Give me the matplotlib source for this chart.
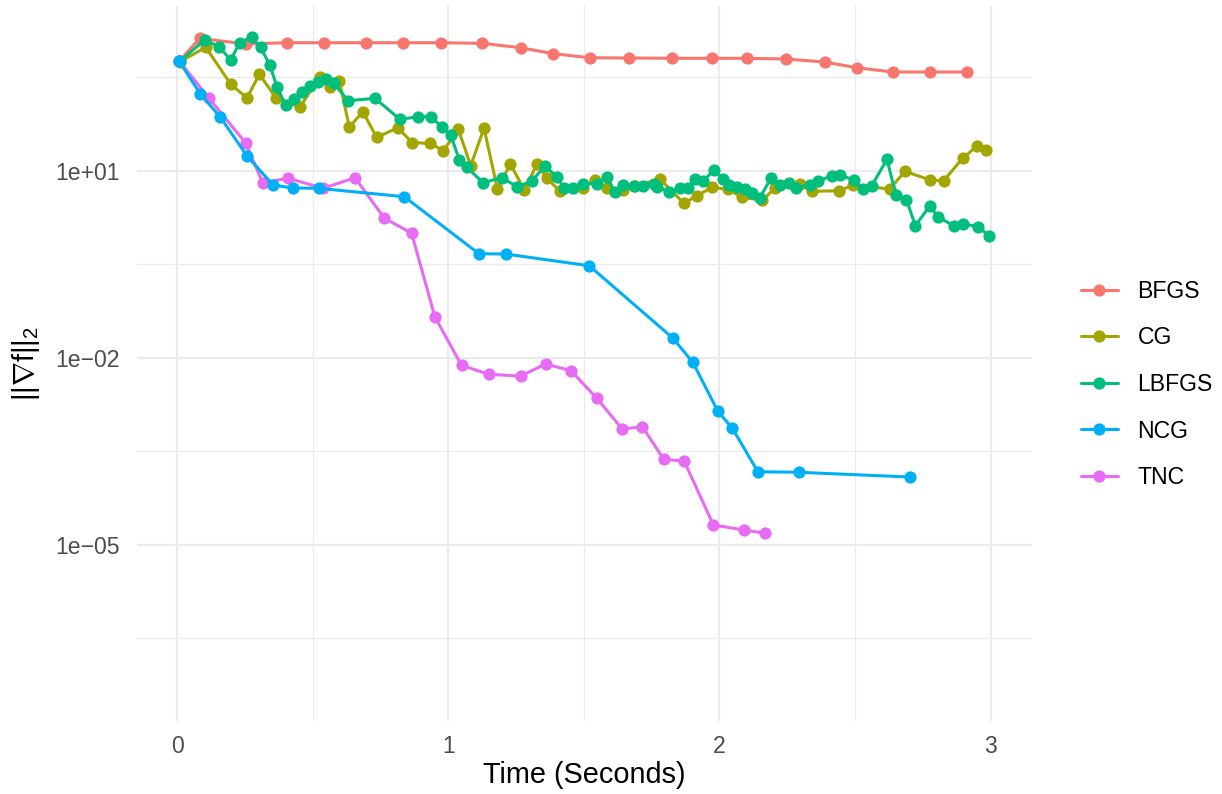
import numpy as np
import matplotlib
matplotlib.use("Agg")
import matplotlib.pyplot as plt
from matplotlib.ticker import FixedLocator, NullFormatter

plt.rcParams['font.family'] = ['Liberation Sans', 'DejaVu Sans']
plt.rcParams['mathtext.fontset'] = 'custom'
plt.rcParams['mathtext.rm'] = 'Liberation Sans'
plt.rcParams['mathtext.it'] = 'Liberation Sans:italic'
plt.rcParams['mathtext.bf'] = 'Liberation Sans:bold'

# ---- data (time in seconds, log10 of gradient norm) ----
methods = ["BFGS", "CG", "LBFGS", "NCG", "TNC"]
colors = ["#F8766D", "#A3A500", "#00BF7D", "#00B0F6", "#E76BF3"]

bfgs_t = [0.008, 0.084, 0.254, 0.404, 0.541, 0.696, 0.834, 0.973, 1.126, 1.267,
          1.388, 1.523, 1.668, 1.824, 1.974, 2.101, 2.245, 2.389, 2.507, 2.640,
          2.778, 2.913]
bfgs_log10 = [2.759, 3.123, 3.032, 3.053, 3.053, 3.053, 3.053, 3.053, 3.043, 2.973,
              2.877, 2.812, 2.808, 2.803, 2.803, 2.803, 2.792, 2.743, 2.652, 2.583,
              2.583, 2.583]

cg_t = [0.010, 0.106, 0.198, 0.258, 0.303, 0.364, 0.453, 0.527, 0.564, 0.598,
        0.635, 0.685, 0.736, 0.814, 0.868, 0.934, 0.982, 1.037, 1.083, 1.132,
        1.181, 1.229, 1.281, 1.327, 1.363, 1.412, 1.497, 1.541, 1.586, 1.646,
        1.689, 1.781, 1.869, 1.918, 1.973, 2.030, 2.084, 2.159, 2.204, 2.298,
        2.343, 2.443, 2.493, 2.629, 2.684, 2.778, 2.827, 2.897, 2.949, 2.985]
cg_log10 = [2.748, 2.979, 2.386, 2.166, 2.548, 2.174, 2.022, 2.511, 2.347, 2.447,
            1.701, 1.946, 1.536, 1.688, 1.449, 1.439, 1.321, 1.664, 1.083, 1.685,
            0.711, 1.107, 0.690, 1.107, 0.883, 0.670, 0.718, 0.856, 0.723, 0.690,
            0.758, 0.867, 0.477, 0.602, 0.731, 0.702, 0.575, 0.525, 0.718, 0.787,
            0.670, 0.679, 0.771, 0.707, 0.990, 0.851, 0.840, 1.199, 1.391, 1.332]

lbfgs_t = [0.010, 0.102, 0.155, 0.197, 0.231, 0.275, 0.308, 0.342, 0.369, 0.400,
           0.431, 0.459, 0.490, 0.520, 0.551, 0.578, 0.631, 0.730, 0.822, 0.889,
           0.935, 0.976, 1.009, 1.041, 1.068, 1.129, 1.197, 1.255, 1.308, 1.357,
           1.400, 1.427, 1.461, 1.496, 1.549, 1.585, 1.615, 1.646, 1.684, 1.717,
           1.758, 1.770, 1.816, 1.855, 1.883, 1.909, 1.938, 1.981, 2.015, 2.036,
           2.065, 2.095, 2.119, 2.148, 2.192, 2.223, 2.255, 2.283, 2.334, 2.365,
           2.415, 2.445, 2.495, 2.529, 2.562, 2.618, 2.651, 2.690, 2.723, 2.776,
           2.807, 2.864, 2.898, 2.955, 2.993]
lbfgs_log10 = [2.759, 3.096, 2.989, 2.775, 3.053, 3.140, 2.979, 2.695, 2.338, 2.054,
               2.145, 2.267, 2.358, 2.427, 2.466, 2.402, 2.123, 2.161, 1.824, 1.866,
               1.866, 1.706, 1.573, 1.172, 1.055, 0.808, 0.888, 0.743, 0.835, 1.075,
               0.904, 0.727, 0.727, 0.787, 0.795, 0.907, 0.655, 0.775, 0.755, 0.750,
               0.783, 0.739, 0.658, 0.715, 0.723, 0.870, 0.830, 1.011, 0.862, 0.771,
               0.739, 0.702, 0.647, 0.557, 0.891, 0.775, 0.803, 0.727, 0.771, 0.835,
               0.918, 0.926, 0.857, 0.711, 0.758, 1.184, 0.615, 0.536, 0.118, 0.437,
               0.257, 0.118, 0.150, 0.102, -0.039]

ncg_t = [0.007, 0.086, 0.160, 0.258, 0.354, 0.426, 0.522, 0.838, 1.113, 1.212,
         1.520, 1.828, 1.902, 1.994, 2.048, 2.142, 2.292, 2.704]
ncg_log10 = [2.759, 2.230, 1.856, 1.236, 0.771, 0.723, 0.718, 0.583, -0.331, -0.336,
             -0.524, -1.683, -2.073, -2.854, -3.132, -3.828, -3.837, -3.913]

tnc_t = [0.008, 0.118, 0.254, 0.315, 0.410, 0.539, 0.656, 0.764, 0.865, 0.951,
         1.049, 1.150, 1.267, 1.359, 1.453, 1.548, 1.642, 1.716, 1.795, 1.870,
         1.978, 2.092, 2.169]
tnc_log10 = [2.759, 2.161, 1.439, 0.811, 0.878, 0.718, 0.888, 0.241, -0.004, -1.346,
             -2.121, -2.265, -2.293, -2.100, -2.208, -2.650, -3.143, -3.106, -3.629, -3.656,
             -4.682, -4.763, -4.816]

x_ticks = [0, 1, 2, 3]
x_tick_labels = ["0", "1", "2", "3"]
y_ticks = [1e1, 1e-2, 1e-5]
y_tick_labels = ["1e+01", "1e\u221202", "1e\u221205"]

series = {
    "BFGS": (bfgs_t, bfgs_log10),
    "CG": (cg_t, cg_log10),
    "LBFGS": (lbfgs_t, lbfgs_log10),
    "NCG": (ncg_t, ncg_log10),
    "TNC": (tnc_t, tnc_log10),
}
zorders = {"BFGS": 3, "CG": 4, "TNC": 5, "LBFGS": 6, "NCG": 7}

W, H = 1222, 794
fig = plt.figure(figsize=(W / 100, H / 100), dpi=100)
left, right, top, bottom = 136.7, 1032, 6, 721
ax = fig.add_axes([left / W, 1 - bottom / H, (right - left) / W, (bottom - top) / H])

handles = []
for name, col in zip(methods, colors):
    t, lg = series[name]
    y = np.power(10.0, np.array(lg))
    h, = ax.plot(t, y, color=col, lw=2.2, marker='o', markersize=8.8,
                 markeredgewidth=0, label=name, zorder=zorders[name],
                 solid_joinstyle='round', solid_capstyle='round')
    handles.append(h)

ax.set_yscale('log')
ax.set_xlim(-0.149, 3.153)
ax.set_ylim(10 ** -7.826, 10 ** 3.642)

ax.yaxis.set_major_locator(FixedLocator(y_ticks))
ax.set_yticklabels(y_tick_labels)
ax.yaxis.set_minor_locator(FixedLocator([10 ** 2.5, 10 ** -0.5, 10 ** -3.5, 10 ** -6.5]))
ax.yaxis.set_minor_formatter(NullFormatter())
ax.xaxis.set_major_locator(FixedLocator(x_ticks))
ax.set_xticklabels(x_tick_labels)
ax.xaxis.set_minor_locator(FixedLocator([0.5, 1.5, 2.5]))

ax.grid(True, which='major', color='#EBEBEB', lw=1.6)
ax.grid(True, which='minor', color='#EBEBEB', lw=0.9)
ax.set_axisbelow(True)
for s in ax.spines.values():
    s.set_visible(False)
ax.tick_params(which='both', length=0)
ax.tick_params(axis='both', which='major', labelsize=16.6, labelcolor='#4D4D4D')
ax.tick_params(axis='x', pad=10)
ax.tick_params(axis='y', pad=12)

ax.set_xlabel("Time (Seconds)", fontsize=20.8, color='black', labelpad=2)
ax.set_ylabel(r"$||\nabla \mathrm{f}||_2$", fontsize=20.8, color='black', labelpad=10)

leg = fig.legend(handles=handles, labels=methods, loc='center left',
                 bbox_to_anchor=(1081 / W, 1 - 384.5 / H), frameon=False,
                 fontsize=16.6, handlelength=1.6, handletextpad=0.85,
                 labelspacing=1.02, borderpad=0, borderaxespad=0)

fig.savefig("out.png", dpi=100)
